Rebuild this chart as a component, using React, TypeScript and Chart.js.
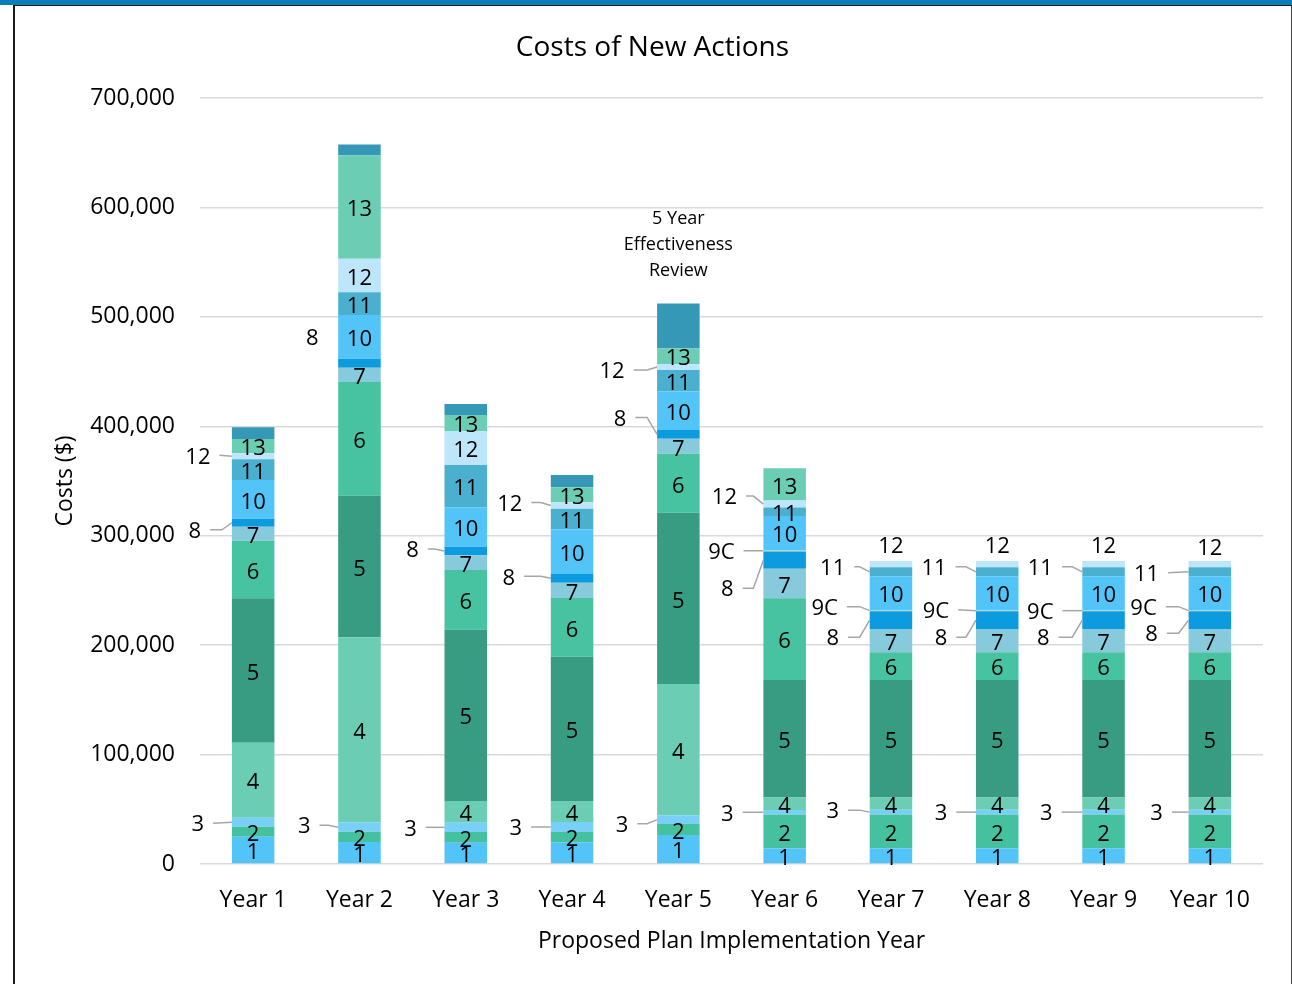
import React, { useEffect, useRef } from 'react';
import { Chart, registerables } from 'chart.js';

Chart.register(...registerables);

const FONT = "'Open Sans', 'DejaVu Sans', sans-serif";

const years = ['Year 1', 'Year 2', 'Year 3', 'Year 4', 'Year 5', 'Year 6', 'Year 7', 'Year 8', 'Year 9', 'Year 10'];
const seriesNames = ['1', '2', '3', '4', '5', '6', '7', '8', '9C', '10', '11', '12', '13', '14'];
const yTicks = [0, 100000, 200000, 300000, 400000, 500000, 600000, 700000];

const s1 = [24900, 20000, 19500, 19800, 26400, 14400, 14500, 14500, 14500, 14500];
const s2 = [9200, 9400, 9700, 9400, 10100, 30800, 30800, 30800, 30800, 30800];
const s3 = [8200, 8500, 8600, 9200, 8100, 4200, 4200, 4200, 4200, 4200];
const s4 = [68500, 169300, 19800, 19200, 119900, 11300, 11300, 11300, 11300, 11300];
const s5 = [132000, 129400, 156800, 131900, 156400, 107500, 107300, 107300, 107300, 107300];
const s6 = [52600, 103800, 54300, 53600, 54100, 74700, 25300, 25300, 25300, 25300];
const s7 = [12800, 13200, 13400, 14000, 13500, 26800, 21300, 21300, 21300, 21300];
const s8 = [7300, 8100, 7900, 7900, 8100, 15800, 16200, 16200, 16200, 16200];
const s9C = [0, 0, 0, 0, 0, 1500, 1200, 1200, 1200, 1200];
const s10 = [35400, 40000, 35900, 40800, 35200, 31100, 30800, 30800, 30800, 30800];
const s11 = [18900, 20900, 38700, 18900, 19600, 7600, 8200, 8200, 8200, 8200];
const s12 = [5500, 30600, 31100, 5800, 5400, 6400, 5800, 5800, 5800, 5800];
const s13 = [13100, 94500, 14600, 13700, 14500, 29600, 0, 0, 0, 0];
const s14 = [10700, 9700, 10000, 11300, 40900, 0, 0, 0, 0, 0];

const seriesData = [s1, s2, s3, s4, s5, s6, s7, s8, s9C, s10, s11, s12, s13, s14];

const colors = [
  '#52C4F8', '#45C1A0', '#78CFF7', '#6BCDB3', '#389C82', '#47C3A1', '#86CADC',
  '#0B9BDE', '#A9DCC9', '#52C4F8', '#4BB0D0', '#BDE6FB', '#6BCDB3', '#3598B7',
];

const annotationLines = ['5 Year', 'Effectiveness', 'Review'];
const annotationYear = 4;

// Label placement (layout only): year index, series, mode, dx from bar left, dy from segment centre
type Place = { year: number; series: string; mode: 'side' | 'top' | 'free'; dx?: number; dy: number };
const placements: Place[] = [
  { year: 0, series: '3', mode: 'side', dx: -34, dy: 1 },
  { year: 0, series: '8', mode: 'side', dx: -37, dy: 7 },
  { year: 0, series: '12', mode: 'side', dx: -34, dy: -1 },
  { year: 1, series: '3', mode: 'side', dx: -34, dy: -2 },
  { year: 1, series: '8', mode: 'free', dx: -26, dy: -26 },
  { year: 2, series: '3', mode: 'side', dx: -34, dy: 0 },
  { year: 2, series: '8', mode: 'side', dx: -32, dy: -2 },
  { year: 3, series: '12', mode: 'side', dx: -41, dy: -3 },
  { year: 3, series: '8', mode: 'side', dx: -42, dy: -2 },
  { year: 3, series: '3', mode: 'side', dx: -35, dy: 0 },
  { year: 4, series: '12', mode: 'side', dx: -45, dy: 3 },
  { year: 4, series: '8', mode: 'side', dx: -37, dy: -17 },
  { year: 4, series: '3', mode: 'side', dx: -35, dy: 4 },
  { year: 5, series: '12', mode: 'side', dx: -39, dy: -8 },
  { year: 5, series: '9C', mode: 'side', dx: -42, dy: 0 },
  { year: 5, series: '8', mode: 'side', dx: -36, dy: 28 },
  { year: 5, series: '3', mode: 'side', dx: -36, dy: 0 },
  { year: 6, series: '11', mode: 'side', dx: -37, dy: -5 },
  { year: 6, series: '9C', mode: 'side', dx: -45, dy: -4 },
  { year: 6, series: '8', mode: 'side', dx: -37, dy: 17 },
  { year: 6, series: '3', mode: 'side', dx: -37, dy: -2 },
  { year: 6, series: '12', mode: 'top', dy: -16 },
  { year: 7, series: '11', mode: 'side', dx: -42, dy: -5 },
  { year: 7, series: '9C', mode: 'side', dx: -40, dy: -1 },
  { year: 7, series: '8', mode: 'side', dx: -35, dy: 17 },
  { year: 7, series: '3', mode: 'side', dx: -35, dy: 0 },
  { year: 7, series: '12', mode: 'top', dy: -16 },
  { year: 8, series: '11', mode: 'side', dx: -42, dy: -5 },
  { year: 8, series: '9C', mode: 'side', dx: -42, dy: 0 },
  { year: 8, series: '8', mode: 'side', dx: -39, dy: 17 },
  { year: 8, series: '3', mode: 'side', dx: -36, dy: 0 },
  { year: 8, series: '12', mode: 'top', dy: -16 },
  { year: 9, series: '11', mode: 'side', dx: -42, dy: 1 },
  { year: 9, series: '9C', mode: 'side', dx: -45, dy: -4 },
  { year: 9, series: '8', mode: 'side', dx: -37, dy: 13 },
  { year: 9, series: '3', mode: 'side', dx: -32, dy: 0 },
  { year: 9, series: '12', mode: 'top', dy: -14 },
];

const hiddenLabels = ['14'];
const TEXT_SHIFT = 2;

const labelPlugin = {
  id: 'segmentLabels',
  afterDatasetsDraw(chart: any) {
    const ctx: CanvasRenderingContext2D = chart.ctx;
    ctx.save();
    ctx.font = `22px ${FONT}`;
    ctx.fillStyle = '#000';
    ctx.textAlign = 'center';
    ctx.textBaseline = 'middle';
    chart.data.datasets.forEach((ds: any, di: number) => {
      const name = seriesNames[di];
      if (hiddenLabels.includes(name)) return;
      const meta = chart.getDatasetMeta(di);
      meta.data.forEach((el: any, yi: number) => {
        const v = ds.data[yi];
        if (!v) return;
        const { x, y, base, width } = el.getProps(['x', 'y', 'base', 'width'], true);
        const top = Math.min(y, base);
        const cy = (y + base) / 2;
        const left = x - width / 2;
        const p = placements.find((o) => o.year === yi && o.series === name);
        if (!p) {
          ctx.fillText(name, x, cy + 1 + TEXT_SHIFT);
          return;
        }
        if (p.mode === 'top') {
          ctx.fillText(name, x, top + p.dy + TEXT_SHIFT);
          return;
        }
        const lx = left + (p.dx || 0);
        const ly = cy + p.dy;
        ctx.fillText(name, lx, ly + TEXT_SHIFT);
        if (p.mode === 'side') {
          const w = ctx.measureText(name).width;
          ctx.beginPath();
          ctx.moveTo(lx + w / 2 + 9, ly);
          if (Math.abs(ly - cy) > 1.5) {
            ctx.lineTo(left - 10, ly);
          }
          ctx.lineTo(left, cy);
          ctx.strokeStyle = '#a6a6a6';
          ctx.lineWidth = 1.5;
          ctx.stroke();
        }
      });
    });

    // annotation above the Year 5 bar
    const lastIdx = chart.data.datasets.length - 1;
    const topEl = chart.getDatasetMeta(lastIdx).data[annotationYear];
    if (topEl) {
      const { x, y } = topEl.getProps(['x', 'y'], true);
      ctx.font = `18px ${FONT}`;
      const n = annotationLines.length;
      annotationLines.forEach((t, i) => {
        ctx.fillText(t, x, y - 32.5 - (n - 1 - i) * 26);
      });
    }
    ctx.restore();
  },
};

export default function App() {
  const ref = useRef<HTMLCanvasElement | null>(null);

  useEffect(() => {
    if (!ref.current) return;
    const chart = new Chart(ref.current, {
      type: 'bar',
      data: {
        labels: years,
        datasets: seriesNames.map((n, i) => ({
          label: n,
          data: seriesData[i],
          backgroundColor: colors[i],
          borderWidth: 0,
          barPercentage: 0.4,
          categoryPercentage: 1,
          stack: 'costs',
        })),
      },
      options: {
        animation: false,
        responsive: false,
        maintainAspectRatio: false,
        layout: { padding: { left: 42, right: 29, top: 0, bottom: 0 } },
        plugins: {
          legend: { display: false },
          tooltip: { enabled: false },
          title: {
            display: true,
            text: 'Costs of New Actions',
            color: '#000',
            font: { family: FONT, size: 28, weight: 'normal' as any, lineHeight: 1.2 },
            padding: { top: 31.2, bottom: 33.2 },
          },
        },
        scales: {
          x: {
            stacked: true,
            grid: { display: false, drawTicks: false },
            border: { display: false },
            ticks: { color: '#000', font: { family: FONT, size: 23 }, padding: 23 },
            title: {
              display: true,
              text: 'Proposed Plan Implementation Year',
              color: '#000',
              font: { family: FONT, size: 23, lineHeight: 1.2 },
              padding: { top: 0, bottom: 29 },
            },
            afterFit: (s: any) => {
              s.height = 120;
            },
          },
          y: {
            stacked: true,
            min: 0,
            max: 700000,
            afterBuildTicks: (s: any) => {
              s.ticks = yTicks.map((v) => ({ value: v }));
            },
            ticks: {
              color: '#000',
              font: { family: FONT, size: 23 },
              padding: 25,
              callback: (v: any) => Number(v).toLocaleString('en-US'),
            },
            grid: { color: '#d9d9d9', lineWidth: 1.5, drawTicks: false },
            border: { display: false },
            title: {
              display: true,
              text: 'Costs ($)',
              color: '#000',
              font: { family: FONT, size: 23, lineHeight: 1.2 },
              padding: { top: 9.2, bottom: 0 },
            },
            afterFit: (s: any) => {
              s.width = 158;
            },
          },
        },
      },
      plugins: [labelPlugin],
    });
    const fonts: any = (document as any).fonts;
    if (fonts && fonts.load) {
      fonts.load(`22px 'Open Sans'`).then(() => chart.update()).catch(() => {});
    }
    return () => chart.destroy();
  }, []);

  return (
    <div style={{ position: 'fixed', left: 0, top: 0, width: 1292, height: 984, background: '#fff', overflow: 'hidden' }}>
      <div style={{ position: 'absolute', left: 0, top: 0, width: 1292, height: 5, background: '#0A7EB6' }} />
      <div
        style={{
          position: 'absolute',
          left: 13,
          top: 5,
          width: 1276,
          height: 1000,
          borderLeft: '2px solid #1a1a1a',
          borderRight: '2px solid #444',
          borderTop: '1px solid #1a1a1a',
        }}
      />
      <canvas ref={ref} width={1292} height={984} style={{ position: 'absolute', left: 0, top: 0, display: 'block' }} />
    </div>
  );
}
